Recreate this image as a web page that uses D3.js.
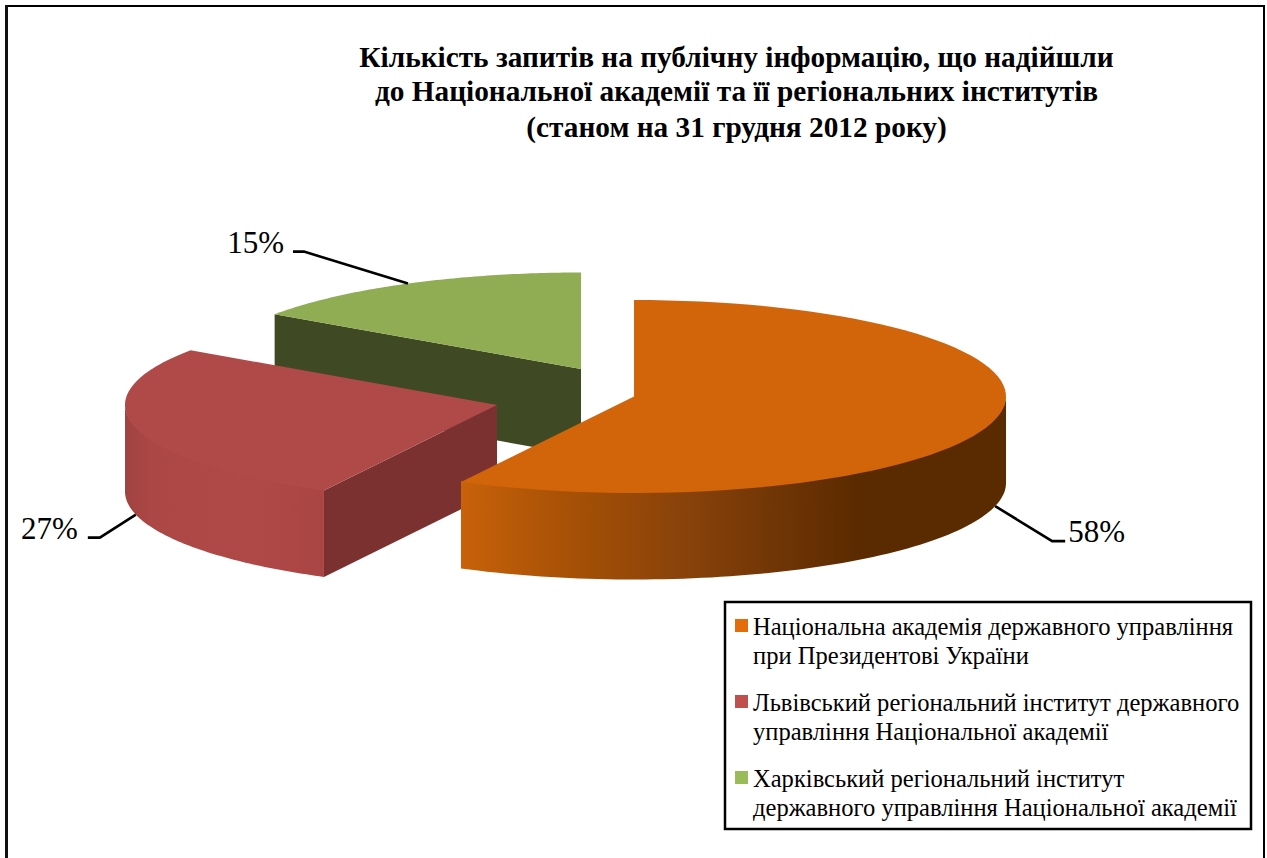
<!DOCTYPE html>
<html>
<head>
<meta charset="utf-8">
<script src="https://cdn.jsdelivr.net/npm/d3@7"></script>
<style>
    html, body { margin: 0; padding: 0; background: #fff; overflow: hidden; }
    text { font-family: "Liberation Serif", serif; fill: #000; }
</style>
</head>
<body>
<div id="chart"></div>
<script>
const titleLines = [
    "Кількість запитів на публічну інформацію, що надійшли",
    "до Національної академії та її регіональних інститутів",
    "(станом на 31 грудня 2012 року)"
];
const categories = [
    ["Національна академія державного управління", "при Президентові України"],
    ["Львівський регіональний інститут державного", "управління Національної академії"],
    ["Харківський регіональний інститут", "державного управління Національної академії"]
];
const values = [57.7, 26.9, 15.4];
const percentLabels = ["58%", "27%", "15%"];

const width = 1267, height = 858;
const rx = 372, ry = 96.5, depth = 86.5;

// each slice is pulled out of the pie by hand, like in the original
const apexes = [{ x: 634, y: 396.5 }, { x: 497, y: 405 }, { x: 581, y: 369 }];
const topColors = ["#d2640a", "#b04a48", "#91ad53"];
const faceColors = [null, "#7a3130", "#3f4a24"];
const legendColors = ["#e46c0a", "#c0504d", "#9bbb59"];

const svg = d3.select("#chart").append("svg")
    .attr("width", width)
    .attr("height", height);

// outer frame, bottom edge runs off the page
svg.append("rect")
    .attr("x", 6).attr("y", 6)
    .attr("width", 1258).attr("height", 880)
    .attr("fill", "#fff")
    .attr("stroke", "#000")
    .attr("stroke-width", 2);
svg.append("rect").attr("x", 5).attr("y", 5).attr("width", 3).attr("height", height).attr("fill", "#111");

svg.selectAll(".title")
    .data(titleLines)
    .enter().append("text")
    .attr("class", "title")
    .attr("x", 736.5)
    .attr("y", (d, i) => [67, 100.5, 137][i])
    .attr("text-anchor", "middle")
    .attr("font-size", 29.3)
    .attr("font-weight", "bold")
    .text(d => d);

const pie = d3.pie().sort(null)(values);
const point = (apex, a, drop = 0) => [apex.x + rx * Math.sin(a), apex.y - ry * Math.cos(a) + drop];
const line = d3.line();

function arcPoints(apex, a0, a1, drop) {
    const n = 80;
    return d3.range(n + 1).map(i => point(apex, a0 + (a1 - a0) * i / n, drop));
}

// wall shading goes left to right along each slice
const defs = svg.append("defs");
const wallStops = {
    0: [[461, "#c8620a"], [560, "#a95206"], [700, "#85400a"], [860, "#5a2a00"], [1006, "#5a2a00"]],
    1: [[124, "#a04341"], [150, "#ab4745"], [250, "#af4947"], [323, "#a94543"]]
};
Object.keys(wallStops).forEach(k => {
    const stops = wallStops[k];
    const x0 = stops[0][0], x1 = stops[stops.length - 1][0];
    const g = defs.append("linearGradient")
        .attr("id", `wall-${k}`)
        .attr("gradientUnits", "userSpaceOnUse")
        .attr("x1", x0).attr("x2", x1).attr("y1", 0).attr("y2", 0);
    stops.forEach(s => g.append("stop")
        .attr("offset", (s[0] - x0) / (x1 - x0))
        .attr("stop-color", s[1]));
});

// back to front so the orange slice covers the others
[2, 1, 0].forEach(i => {
    const slice = pie[i];
    const apex = apexes[i];
    const g = svg.append("g").attr("class", `slice-${i}`);

    // cut face, only the side that looks at the viewer
    if (faceColors[i]) {
        const edge = point(apex, slice.startAngle);
        const edgeLow = point(apex, slice.startAngle, depth);
        g.append("path")
            .attr("d", line([[apex.x, apex.y], edge, edgeLow, [apex.x, apex.y + depth]]) + "Z")
            .attr("fill", faceColors[i]);
    }

    // outer wall, front half of the rim. starts 1px high so no white seam under the top
    if (i < 2) {
        const a0 = slice.startAngle < Math.PI / 2 ? Math.PI / 2 : slice.startAngle;
        const a1 = Math.min(slice.endAngle, 3 * Math.PI / 2);
        const upper = arcPoints(apex, a0, a1, -1);
        const lower = arcPoints(apex, a1, a0, depth);
        g.append("path")
            .attr("d", line(upper.concat(lower)) + "Z")
            .attr("fill", `url(#wall-${i})`);
    }

    g.append("path")
        .attr("d", line([[apex.x, apex.y]].concat(arcPoints(apex, slice.startAngle, slice.endAngle, 0))) + "Z")
        .attr("fill", topColors[i]);
});

// leader lines start at the middle of each slice's rim
const labelSpots = [
    { dx: 57, dy: 35, tail: 13, drop: depth, tx: 3, anchor: "start" },
    { dx: -36, dy: 23, tail: -12, drop: depth, tx: -10, anchor: "end" },
    { dx: -104, dy: -32, tail: -11, drop: 0, tx: -9, anchor: "end" }
];
pie.forEach((slice, i) => {
    const s = labelSpots[i];
    const mid = (slice.startAngle + slice.endAngle) / 2;
    const p0 = point(apexes[i], mid, s.drop);
    const p1 = [p0[0] + s.dx, p0[1] + s.dy];
    const p2 = [p1[0] + s.tail, p1[1]];
    svg.append("path")
        .attr("d", line([p0, p1, p2]))
        .attr("fill", "none")
        .attr("stroke", "#000")
        .attr("stroke-width", 2.6);
    svg.append("text")
        .attr("x", p2[0] + s.tx)
        .attr("y", p2[1] + 1)
        .attr("text-anchor", s.anchor)
        .attr("font-size", 31)
        .text(percentLabels[i]);
});

// legend
const legend = svg.append("g");
legend.append("rect")
    .attr("x", 725).attr("y", 602)
    .attr("width", 526).attr("height", 227)
    .attr("fill", "#fff")
    .attr("stroke", "#000")
    .attr("stroke-width", 2.5);

const legendRow = d3.scalePoint().domain(d3.range(categories.length)).range([635, 787]);
categories.forEach((lines, i) => {
    const y = legendRow(i);
    legend.append("rect")
        .attr("x", 735).attr("y", y - 16)
        .attr("width", 13).attr("height", 13)
        .attr("fill", legendColors[i]);
    lines.forEach((t, j) => {
        legend.append("text")
            .attr("x", 753)
            .attr("y", y + j * 28.5)
            .attr("font-size", 24.55)
            .text(t);
    });
});
</script>
</body>
</html>
